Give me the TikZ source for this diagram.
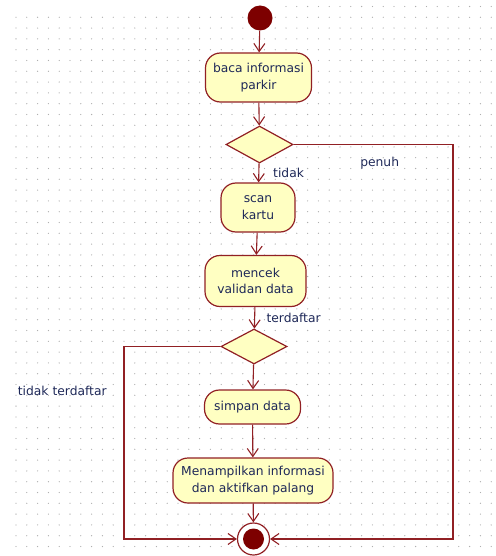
\documentclass[tikz,border=0pt]{standalone}
\usepackage{fontspec}
\setmainfont{DejaVu Sans}
\usetikzlibrary{arrows.meta,shapes.geometric}

\definecolor{garis}{RGB}{145,32,36}
\definecolor{bulat}{RGB}{125,0,0}
\definecolor{isi}{RGB}{255,255,194}
\definecolor{tulisan}{RGB}{30,40,88}
\definecolor{titik}{RGB}{175,175,175}

\begin{document}
\begin{tikzpicture}[x=1pt,y=-1pt,
  font=\fontsize{12.3}{16.5}\selectfont,
  aksi/.style={draw=garis,fill=isi,line width=1.2pt,rounded corners=15pt,
    align=center,inner sep=0pt,text=tulisan},
  pilih/.style={draw=garis,fill=isi,line width=1.2pt,diamond,inner sep=0pt},
  alir/.style={draw=garis,line width=1.1pt,-{Straight Barb[length=8pt,width=11pt]}},
  ket/.style={text=tulisan},
  awal/.style={circle,fill=bulat,minimum size=25pt,inner sep=0pt},
  akhir/.style={circle,draw=garis,fill=white,line width=1.2pt,minimum size=32pt,inner sep=0pt}]
\useasboundingbox (0,0) rectangle (495,556);

% grid titik
\foreach \i in {0,...,44}
  \foreach \j in {0,...,50}
    \fill[titik] (16+10.8*\i,6.5+10.8*\j) circle (0.65);
\fill[white] (0,0) rectangle (282,11.5);

\node[awal] (mulai) at (260,18) {};
\node[aksi,minimum width=106pt,minimum height=49pt] (baca) at (258.5,77.5) {baca informasi\\parkir};
\node[pilih,minimum width=67pt,minimum height=37pt] (cekparkir) at (259.5,144.5) {};
\node[aksi,minimum width=74pt,minimum height=49pt] (scan) at (258,207.5) {scan\\kartu};
\node[aksi,minimum width=101pt,minimum height=51pt] (mencek) at (255.5,281) {mencek\\validan data};
\node[pilih,minimum width=66pt,minimum height=35pt] (cekdata) at (254,346.5) {};
\node[aksi,minimum width=96pt,minimum height=34pt] (simpan) at (252.5,407) {simpan data};
\node[aksi,minimum width=160pt,minimum height=45pt] (tampil) at (253,480.5) {Menampilkan informasi\\dan aktifkan palang};
\node[akhir] (selesai) at (253.5,539) {};
\fill[bulat] (selesai.center) circle (10.5);
\coordinate (kanan) at (453,539);
\coordinate (kiri) at (124,539);

\draw[alir] (mulai) -- (baca);
\draw[alir] (baca) -- (cekparkir);
\draw[alir] (cekparkir) -- node[ket,right=10.5pt] {tidak} (scan);
\draw[alir] (scan) -- (mencek);
\draw[alir] (mencek) -- node[ket,right=8pt] {terdaftar} (cekdata);
\draw[alir] (cekdata) -- (simpan);
\draw[alir] (simpan) -- (tampil);
\draw[alir] (tampil) -- (selesai);
\draw[alir] (cekparkir.east) -| node[ket,pos=.27,below=9pt] {penuh} (kanan) -- (selesai);
\draw[alir] (cekdata.west) -| node[ket,pos=.616,left=13.5pt] {tidak terdaftar} (kiri) -- (selesai);
\end{tikzpicture}
\end{document}
